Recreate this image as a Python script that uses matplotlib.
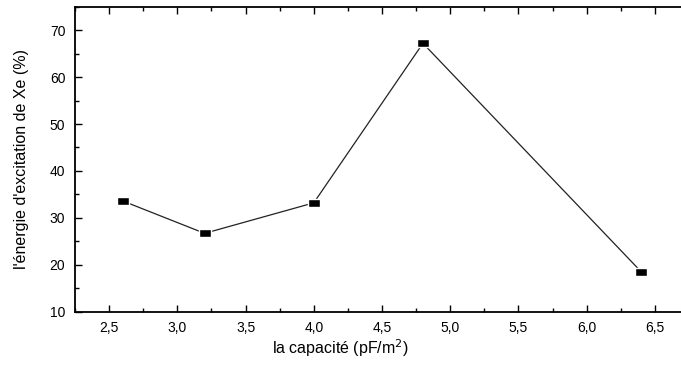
import matplotlib.pyplot as plt
from matplotlib.ticker import MultipleLocator

plt.rcParams['font.family'] = ['Liberation Sans', 'DejaVu Sans']

# data
capacite = [2.6, 3.2, 4.0, 4.8, 6.4]
energie = [33.6, 26.7, 33.2, 67.2, 18.5]

xticks = [2.5, 3.0, 3.5, 4.0, 4.5, 5.0, 5.5, 6.0, 6.5]
xtick_labels = ['2,5', '3,0', '3,5', '4,0', '4,5', '5,0', '5,5', '6,0', '6,5']
yticks = [10, 20, 30, 40, 50, 60, 70]

fig = plt.figure(figsize=(6.81, 3.65), dpi=100)
ax = fig.add_axes([75 / 681, 53.3 / 365, 614 / 681, 305 / 365])

# flat rectangle marker like the original
rect = [(-1, -0.7), (1, -0.7), (1, 0.7), (-1, 0.7), (-1, -0.7)]
ax.plot(capacite, energie, color='#222222', linewidth=0.9,
        marker=rect, markersize=8, markerfacecolor='black',
        markeredgecolor='white', markeredgewidth=1.0)

ax.set_xlim(2.25, 6.75)
ax.set_ylim(10, 75)
ax.set_xticks(xticks)
ax.set_xticklabels(xtick_labels)
ax.set_yticks(yticks)
ax.xaxis.set_minor_locator(MultipleLocator(0.25))
ax.yaxis.set_minor_locator(MultipleLocator(5))

ax.tick_params(which='both', direction='in', top=True, right=True,
               width=1, labelsize=10, pad=7)
ax.tick_params(which='major', length=5)
ax.tick_params(which='minor', length=3)
for s in ax.spines.values():
    s.set_linewidth(1.3)

ax.set_ylabel("l'énergie d'excitation de Xe (%)", fontsize=11.5)
ax.yaxis.set_label_coords(-0.075, 0.5)
ax.set_xlabel('la capacité (pF/m$^2$)', fontsize=11.5)
ax.xaxis.set_label_coords((340 - 75) / 614, -0.085)

fig.savefig('out.png', dpi=100)
